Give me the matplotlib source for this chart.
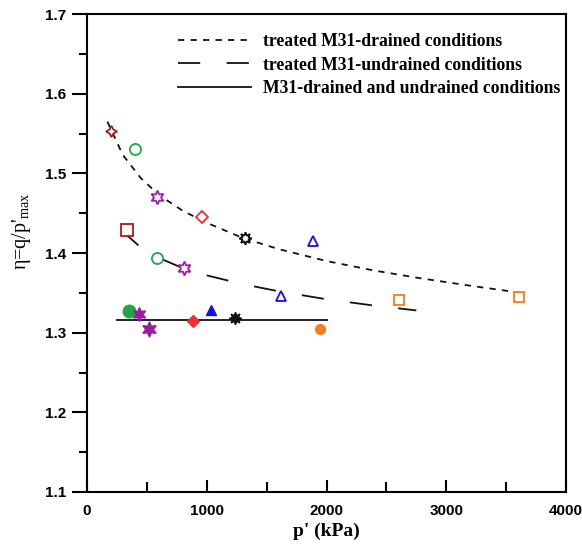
import matplotlib
matplotlib.use("Agg")
import matplotlib.pyplot as plt

plt.rcParams["lines.scale_dashes"] = False
plt.rcParams["mathtext.default"] = "regular"

SERIF = "Liberation Serif"
SANS = "Liberation Sans"

# curves
drained_x = [170, 300, 450, 600, 800, 1000, 1300, 1600, 2000, 2400, 2800, 3200, 3630]
drained_y = [1.565, 1.523, 1.494, 1.473, 1.453, 1.438, 1.419, 1.405, 1.390, 1.378, 1.368, 1.359, 1.350]
undrained_x = [290, 450, 600, 800, 1000, 1300, 1600, 2000, 2400, 2750]
undrained_y = [1.428, 1.407, 1.394, 1.381, 1.372, 1.361, 1.352, 1.342, 1.334, 1.328]
plain_x = [250, 2000]
plain_y = [1.316, 1.316]

# markers: treated drained
td_x = [200, 400, 584, 959, 1318, 1885, 3611]
td_y = [1.553, 1.531, 1.470, 1.445, 1.419, 1.415, 1.345]
# treated undrained
tu_x = [334, 584, 809, 1618, 2602]
tu_y = [1.429, 1.394, 1.381, 1.346, 1.341]
# untreated (filled)
un_x = [350, 434, 517, 884, 1034, 1234, 1943]
un_y = [1.327, 1.324, 1.305, 1.315, 1.329, 1.319, 1.305]

DRED = "#B01818"
GREEN = "#1FA84A"
MAG = "#9A1FA0"
RED = "#F03030"
BLUE = "#1010F0"
ORANGE = "#FF7A1F"
BLACK = "#111111"

td_style = [((4, 1, 0), DRED, 8), ("o", GREEN, 8), ((6, 1, 0), MAG, 10),
            ("D", RED, 6), ((8, 1, 0), BLACK, 9), ("^", BLUE, 7), ("s", ORANGE, 7)]
tu_style = [("s", DRED, 8), ("o", GREEN, 8), ((6, 1, 0), MAG, 10),
            ("^", BLUE, 7), ("s", ORANGE, 7)]
un_style = [("o", GREEN, 9), ((6, 1, 0), MAG, 10), ((6, 1, 0), MAG, 11),
            ("D", RED, 6.5), ("^", BLUE, 6.5), ((8, 1, 0), BLACK, 9), ("o", ORANGE, 7)]

fig = plt.figure(figsize=(5.82, 5.44), dpi=100)
ax = fig.add_axes([0.1495, 0.0956, 0.823, 0.8784])

ax.plot(drained_x, drained_y, color=BLACK, lw=1.3, dashes=(4.5, 4.5),
        label="treated M31-drained conditions")
ax.plot(undrained_x, undrained_y, color=BLACK, lw=1.3, dashes=(16, 19),
        label="treated M31-undrained conditions")
ax.plot(plain_x, plain_y, color=BLACK, lw=1.3,
        label="M31-drained and undrained conditions")

for x, y, (m, c, s) in zip(td_x, td_y, td_style):
    ax.plot(x, y, marker=m, color=c, ms=s, mfc="white", mew=1.3, zorder=3)
for x, y, (m, c, s) in zip(tu_x, tu_y, tu_style):
    ax.plot(x, y, marker=m, color=c, ms=s, mfc="white", mew=1.3, zorder=3)
for x, y, (m, c, s) in zip(un_x, un_y, un_style):
    ax.plot(x, y, marker=m, color=c, ms=s, mfc=c, mew=1.0, zorder=3)

ax.set_xlim(0, 4000)
ax.set_ylim(1.1, 1.7)
ax.set_xticks([0, 1000, 2000, 3000, 4000])
ax.set_xticks([500, 1500, 2500, 3500], minor=True)
ax.set_yticks([1.1, 1.2, 1.3, 1.4, 1.5, 1.6, 1.7])
ax.set_yticks([1.15, 1.25, 1.35, 1.45, 1.55, 1.65], minor=True)
ax.set_yticklabels(["1.1", "1.2", "1.3", "1.4", "1.5", "1.6", "1.7"])

ax.tick_params(axis="x", which="major", direction="in", length=9, width=1.5, pad=9)
ax.tick_params(axis="x", which="minor", direction="in", length=7, width=1.5)
ax.tick_params(axis="y", which="major", direction="out", length=11, width=1.5, pad=4)
ax.tick_params(axis="y", which="minor", direction="out", length=6, width=1.5)
for lab in ax.get_xticklabels() + ax.get_yticklabels():
    lab.set_fontfamily(SANS)
    lab.set_fontweight("bold")
    lab.set_fontsize(11)
for sp in ax.spines.values():
    sp.set_linewidth(1.5)

ax.set_xlabel("p' (kPa)", fontfamily=SERIF, fontweight="bold", fontsize=14, labelpad=3)
ax.set_ylabel("η=q/p'$_{max}$", fontfamily=SERIF, fontsize=14.5)
ax.yaxis.set_label_coords(-0.112, 0.545)

leg = ax.legend(loc="upper right", frameon=False, handlelength=4.1, handletextpad=0.72,
                labelspacing=0.38, bbox_to_anchor=(1.022, 0.994),
                prop={"family": SERIF, "weight": "bold", "size": 12.7})

fig.savefig("out.png", dpi=100)
